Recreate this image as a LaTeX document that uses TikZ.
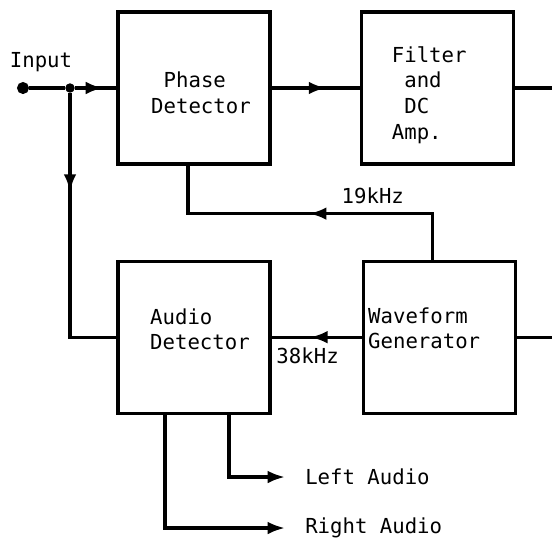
\documentclass[tikz,border=0pt]{standalone}
\usepackage{fontspec}
\setmonofont{DejaVu Sans Mono}
\usetikzlibrary{arrows.meta,positioning,calc,decorations.markings}

\begin{document}
\begin{tikzpicture}[
  x=0.75pt,y=-0.75pt,
  block/.style={draw,line width=2.4pt,minimum width=114pt,minimum height=114pt,inner sep=0pt},
  sig/.style={font={\ttfamily\fontsize{15.5}{19.2}\selectfont},align=left,inner sep=0pt},
  wire/.style={line width=2.4pt},
  outarrow/.style={-{Latex[length=13pt,width=9.5pt]}},
  midarrow/.style={postaction={decorate},decoration={markings,mark=at position #1 with {\arrow{Latex[length=13pt,width=9.5pt]}}}},
  port/.style={circle,draw,fill,line width=1pt,inner sep=0pt,minimum size=#1}
]
\useasboundingbox (0,0) rectangle (552,540);

% blocks
\node[block] (phase) at (194,88) {};
\node[block,right=66pt of phase] (filter) {};
\node[block,below=70.5pt of phase] (audio) {};
\node[block,right=67.5pt of audio] (wave) {};
\node[sig] at ($(phase)+(7,4.5)$) {\phantom{P}Phase\\Detector};
\node[sig] at ($(filter)+(-8,7)$) {Filter\\\phantom{F}and\\\phantom{F}DC\\Amp.};
\node[sig] at ($(audio)+(6,-8)$) {Audio\\Detector};
\node[sig] at ($(wave)+(-15,-9)$) {Waveform\\Generator};

% input
\node[port=8pt] (in) at (23,88) {};
\node[port=6pt] (jn) at (70,88) {};
\node[sig] at (41,62) {Input};
\draw[wire] (in) -- (jn);
\draw[wire,midarrow=0.68] (jn) -- (phase.west);
\draw[wire,midarrow=0.34] (jn) |- (audio.west);

% loop
\draw[wire,midarrow=0.62] (phase.east) -- (filter.west);
\coordinate (edge) at (552,0);
\draw[wire] (filter.east) -- (filter.east -| edge);
\draw[wire] (wave.east) -- (wave.east -| edge);
\draw[wire,midarrow=0.5] ([xshift=-5.25pt]wave.north) -- ++(0,-46)
  node[sig,above left=6pt and 20pt] {19kHz} -| ([xshift=-4.5pt]phase.south);
\draw[wire,midarrow=0.57] (wave.west) -- node[sig,pos=0.6,below=7pt] {38kHz} (audio.east);

% outputs
\coordinate (leftend) at (285,477);
\coordinate (rightend) at (285,528);
\draw[wire,outarrow] ([xshift=26.25pt]audio.south) |- (leftend);
\draw[wire,outarrow] ([xshift=-21.75pt]audio.south) |- (rightend);
\node[sig,right=15pt of leftend] {Left Audio};
\node[sig,right=15pt of rightend] {Right Audio};
\end{tikzpicture}
\end{document}
